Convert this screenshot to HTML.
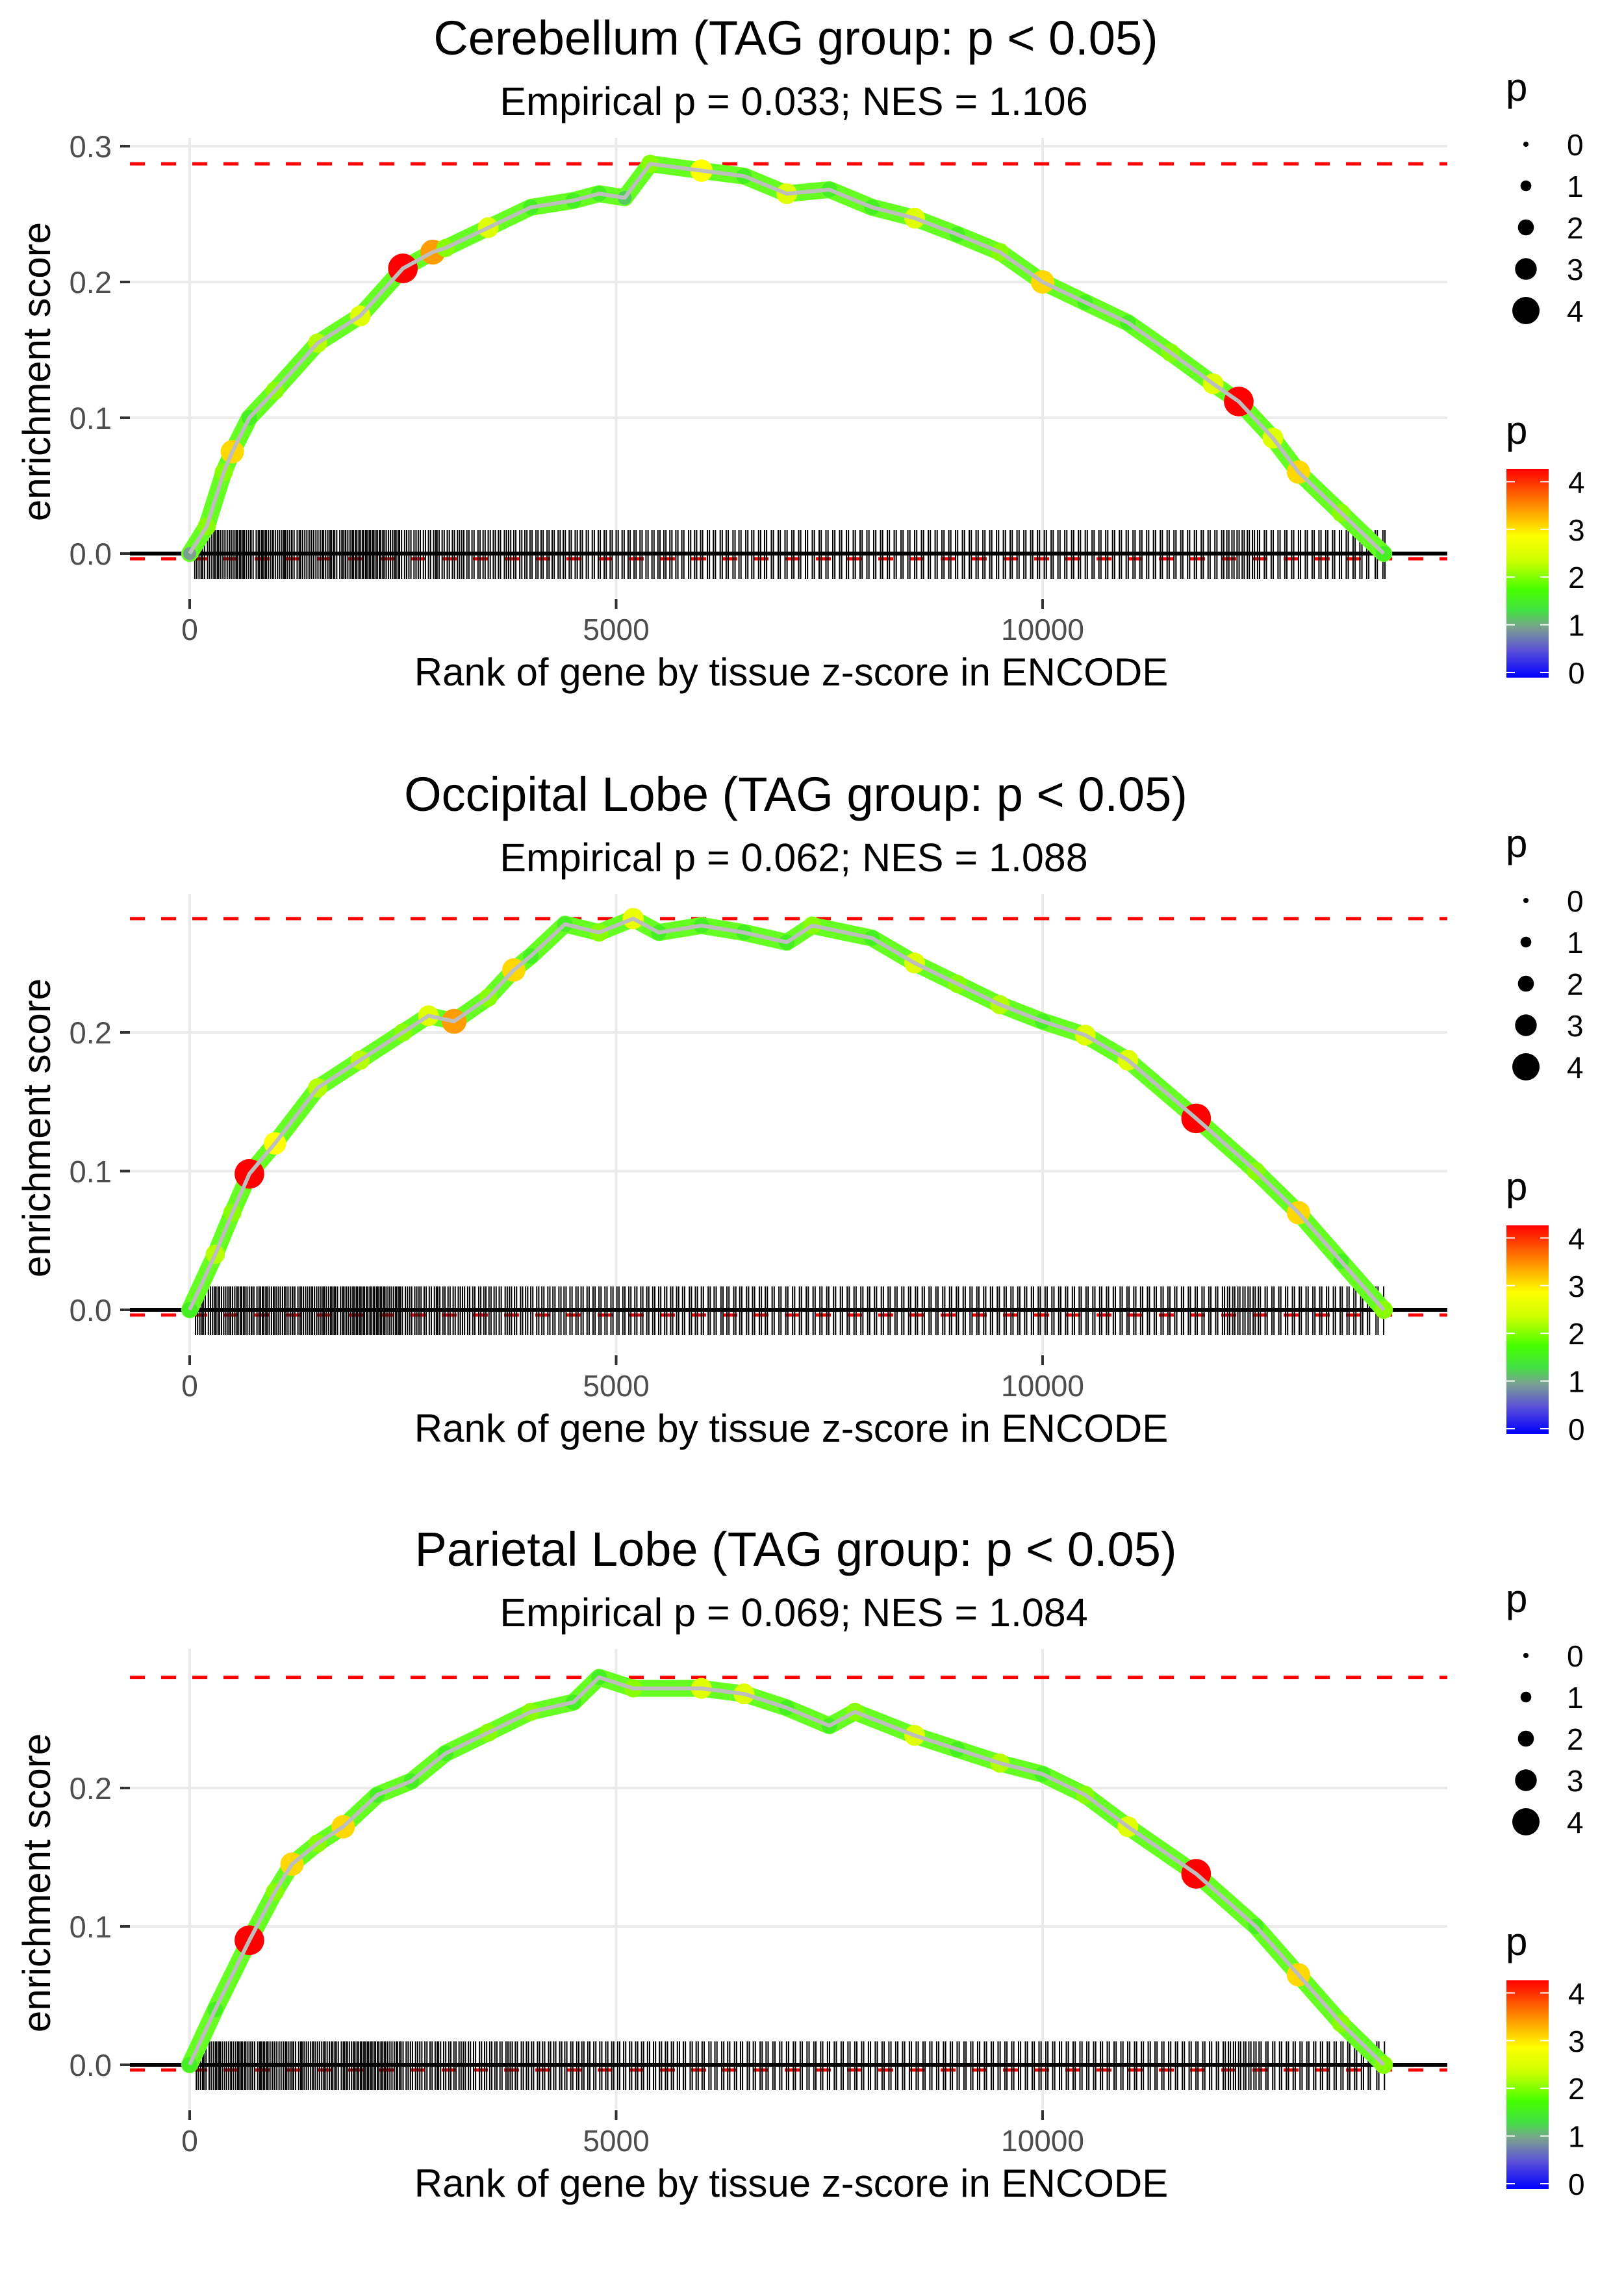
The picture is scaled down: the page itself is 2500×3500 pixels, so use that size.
<!DOCTYPE html>
<html><head><meta charset="utf-8"><style>
html,body{margin:0;padding:0;background:#fff}
svg{display:block}
text{font-family:"Liberation Sans",sans-serif}
</style></head><body>
<svg id="chart" width="2500" height="3500" viewBox="0 0 2500 3500" xmlns="http://www.w3.org/2000/svg">
<defs>
<linearGradient id="pgrad" x1="0" y1="1" x2="0" y2="0">
<stop offset="0" stop-color="#0000ff"/><stop offset="0.13" stop-color="#5a50d8"/><stop offset="0.24" stop-color="#7aa090"/>
<stop offset="0.32" stop-color="#44e044"/><stop offset="0.42" stop-color="#44ff00"/><stop offset="0.56" stop-color="#ccff00"/>
<stop offset="0.68" stop-color="#ffff00"/><stop offset="0.78" stop-color="#ffb000"/><stop offset="0.9" stop-color="#ff5000"/><stop offset="1" stop-color="#ff0000"/>
</linearGradient>
</defs>
</svg>
<script>
const titles = ["Cerebellum (TAG group: p < 0.05)","Occipital Lobe (TAG group: p < 0.05)","Parietal Lobe (TAG group: p < 0.05)"];
const subtitles = ["Empirical p = 0.033; NES = 1.106","Empirical p = 0.062; NES = 1.088","Empirical p = 0.069; NES = 1.084"];
const maxES = [0.287, 0.282, 0.280];
const yTicks1 = [0, 0.1, 0.2, 0.3];
const yTicks23 = [0, 0.1, 0.2];
const xTicks = [0, 5000, 10000];
const ranks1 = [0,200,400,500,700,1000,1500,2000,2500,2850,3000,3500,4000,4500,4800,5100,5400,6000,6500,7000,7500,8000,8500,9000,9500,10000,10500,11000,11500,12000,12300,12700,13000,13500,14000];
const es1 = [0,0.02,0.06,0.075,0.1,0.12,0.155,0.175,0.21,0.222,0.225,0.24,0.255,0.26,0.265,0.262,0.287,0.282,0.278,0.265,0.268,0.255,0.247,0.235,0.222,0.2,0.185,0.17,0.148,0.125,0.112,0.085,0.06,0.03,0];
const p1 = [1,2,2,3,1.5,2,2.2,2.5,4.2,3.3,2,2.5,1.5,1.5,1.5,1.2,2,2.8,1.5,2.5,1.5,1.5,2.5,1.5,2,3,1.5,1.5,2,2.5,4.2,2.5,3,2,1.5];
const ranks2 = [0,300,500,700,1000,1500,2000,2500,2800,3100,3500,3800,4000,4400,4800,5200,5500,6000,6500,7000,7300,8000,8500,9000,9500,10000,10500,11000,11800,12500,13000,13500,14000];
const es2 = [0,0.04,0.07,0.098,0.12,0.16,0.18,0.2,0.212,0.208,0.225,0.245,0.255,0.278,0.272,0.282,0.272,0.277,0.272,0.265,0.277,0.268,0.25,0.235,0.22,0.208,0.198,0.18,0.138,0.1,0.07,0.035,0];
const p2 = [1.5,2.2,2,4.2,2.8,2.2,2.2,2,2.5,3.3,2,3,1.5,1.5,2,2.6,1.5,1.5,1.5,1.5,2,1.5,2.5,2,2.2,1.5,2.5,2.5,4.2,2,3,1.5,2];
const ranks3 = [0,300,700,1000,1200,1500,1800,2200,2600,3000,3500,4000,4500,4800,5200,6000,6500,7000,7500,7800,8500,9000,9500,10000,10500,11000,11800,12500,13000,13500,14000];
const es3 = [0,0.04,0.09,0.125,0.145,0.16,0.172,0.195,0.205,0.225,0.24,0.255,0.262,0.28,0.272,0.272,0.268,0.258,0.245,0.255,0.238,0.228,0.218,0.21,0.195,0.172,0.138,0.1,0.065,0.03,0];
const p3 = [1.5,1.5,4.2,2,3,2,3,1.5,1.5,1.5,2,2,1.5,1.5,2,2.5,2.5,1.5,1.5,2,2.5,1.5,2.2,1.5,2,2.5,4.2,1.5,3,2,2];
const rugRanks = [60,110,150,210,260,300,340,390,440,470,520,560,600,640,690,720,780,820,860,900,950,980,1030,1080,1120,1170,1200,1260,1300,1350,1400,1430,1480,1530,1570,1620,1660,1700,1760,1800,1830,1880,1920,1960,2000,2040,2080,2120,2160,2200,2240,2280,2330,2380,2420,2460,2520,2570,2630,2680,2740,2800,2860,2900,2960,3020,3080,3140,3190,3250,3310,3380,3440,3500,3560,3620,3690,3740,3800,3870,3930,3990,4060,4120,4190,4250,4320,4380,4450,4520,4580,4650,4720,4790,4860,4930,5000,5070,5140,5210,5280,5350,5420,5490,5560,5630,5700,5770,5850,5920,5990,6070,6140,6220,6290,6370,6440,6520,6590,6670,6740,6820,6900,6980,7060,7140,7220,7300,7380,7460,7540,7620,7700,7780,7860,7940,8020,8100,8180,8260,8340,8420,8500,8580,8660,8740,8820,8900,8980,9060,9140,9220,9300,9380,9460,9540,9620,9700,9780,9860,9940,10020,10100,10180,10260,10340,10420,10500,10580,10660,10740,10820,10900,10980,11060,11140,11220,11300,11380,11460,11540,11620,11700,11780,11860,11940,12020,12100,12160,12220,12280,12340,12400,12460,12520,12600,12680,12760,12840,12920,13000,13080,13160,13240,13320,13400,13480,13560,13640,13720,13800,13900,13990];
const pTicks = [0,1,2,3,4];

const svg = document.getElementById('chart');
const NS = 'http://www.w3.org/2000/svg';
function mk(tag, attrs, parent){ const e=document.createElementNS(NS,tag); for(const k in attrs) e.setAttribute(k,attrs[k]); (parent||svg).appendChild(e); return e; }
function pColor(p){
  const st=[[0,[0,0,255]],[0.5,[90,80,216]],[1,[122,160,144]],[1.3,[68,224,68]],[1.7,[68,255,0]],[2.3,[204,255,0]],[2.8,[255,255,0]],[3.2,[255,176,0]],[3.7,[255,80,0]],[4.2,[255,0,0]]];
  for(let i=1;i<st.length;i++){ if(p<=st[i][0]){ const a=st[i-1],b=st[i],t=(p-a[0])/(b[0]-a[0]); return 'rgb('+a[1].map((v,j)=>Math.round(v+(b[1][j]-v)*t)).join(',')+')'; } }
  return 'rgb(255,0,0)';
}
const panels = [
  {off:0, ranks:ranks1, es:es1, p:p1, yt:yTicks1, y0:852, k:2090},
  {off:1164, ranks:ranks2, es:es2, p:p2, yt:yTicks23, y0:2016, k:2135},
  {off:2326, ranks:ranks3, es:es3, p:p3, yt:yTicks23, y0:3178, k:2130}
];
const xs = r => 292 + r*0.1313;
const PL=200, PR=2228;
panels.forEach((P,i)=>{
  const g = mk('g',{});
  
  
  const ys = v => P.y0 - v*P.k;
  const o = P.off;
  P.yt.forEach(v=>{ const l=mk('line',{x1:PL,x2:PR,y1:ys(v),y2:ys(v),stroke:'#ebebeb','stroke-width':4},g);   });
  xTicks.forEach(v=>{ const l=mk('line',{x1:xs(v),x2:xs(v),y1:o+212,y2:o+920,stroke:'#ebebeb','stroke-width':4},g);   });
  const t=mk('text',{x:1225,y:o+84,'font-size':74,'text-anchor':'middle',fill:'#000'},g); t.textContent=titles[i];
   
  const st=mk('text',{x:1222,y:o+177,'font-size':61,'text-anchor':'middle',fill:'#000'},g); st.textContent=subtitles[i];
   
  P.yt.forEach(v=>{
    mk('line',{x1:185,x2:200,y1:ys(v),y2:ys(v),stroke:'#333','stroke-width':4},g);
    const tl=mk('text',{x:172,y:ys(v)+17,'font-size':47,'text-anchor':'end',fill:'#4d4d4d'},g); tl.textContent=v.toFixed(1);
     
  });
  xTicks.forEach(v=>{
    mk('line',{x1:xs(v),x2:xs(v),y1:o+922,y2:o+937,stroke:'#333','stroke-width':4},g);
    const tl=mk('text',{x:xs(v),y:o+985,'font-size':46,'text-anchor':'middle',fill:'#4d4d4d'},g); tl.textContent=v;
     
  });
  const yl=mk('text',{x:0,y:0,'font-size':60,'text-anchor':'middle',fill:'#000',transform:'translate(77,'+(o+572)+') rotate(-90)'},g); yl.textContent='enrichment score';
   
  const xl=mk('text',{x:1218,y:o+1055,'font-size':60,'text-anchor':'middle',fill:'#000'},g); xl.textContent='Rank of gene by tissue z-score in ENCODE';
   
  const d1=mk('line',{x1:PL,x2:PR,y1:ys(maxES[i]),y2:ys(maxES[i]),stroke:'#ff0000','stroke-width':5,'stroke-dasharray':'23,25'},g);
   
  const d2=mk('line',{x1:PL,x2:PR,y1:P.y0+8,y2:P.y0+8,stroke:'#ff0000','stroke-width':5,'stroke-dasharray':'23,25'},g);
   
  const rug=mk('g',{stroke:'#000','stroke-width':2},g);
   
  rugRanks.forEach(r=>{ [0,24].forEach(dd=>{ const rr=r+dd+(i*9); if(rr>40&&rr<14020) mk('line',{x1:xs(rr),x2:xs(rr),y1:P.y0-36,y2:P.y0+39},rug); }); });
  mk('line',{x1:PL,x2:PR,y1:P.y0,y2:P.y0,stroke:'#000','stroke-width':6},g);
  const pts=P.ranks.map((r,j)=>xs(r)+','+ys(P.es[j])).join(' ');
  const under=mk('polyline',{points:pts,fill:'none',stroke:'#66ff22','stroke-width':26,'stroke-linejoin':'round','stroke-linecap':'round'},g);
   
  P.ranks.forEach((r,j)=>{
    const c=mk('circle',{cx:xs(r),cy:ys(P.es[j]),r:6+P.p[j]*4,fill:pColor(P.p[j])},g);
     
  });
  const line=mk('polyline',{points:pts,fill:'none',stroke:'#bebebe','stroke-width':6,'stroke-linejoin':'round'},g);
   
  const sl=mk('g',{},g);  
  const sp=mk('text',{x:2318,y:o+155,'font-size':60},sl); sp.textContent='p';
  const rads=[4,8.3,12.3,16.7,21];
  pTicks.forEach((v,j)=>{
    mk('circle',{cx:2349,cy:o+222+j*64,r:rads[j],fill:'#000'},sl);
    const lt=mk('text',{x:2412,y:o+239+j*64,'font-size':46},sl); lt.textContent=v;
  });
  const cl=mk('g',{},g);  
  const cp=mk('text',{x:2318,y:o+683,'font-size':60},cl); cp.textContent='p';
  mk('rect',{x:2319,y:o+722,width:65,height:321,fill:'url(#pgrad)'},cl);
  pTicks.forEach(v=>{
    const y=o+1035-v*73.4;
    mk('line',{x1:2319,x2:2332,y1:y,y2:y,stroke:'#fff','stroke-width':2},cl);
    mk('line',{x1:2371,x2:2384,y1:y,y2:y,stroke:'#fff','stroke-width':2},cl);
    const lt=mk('text',{x:2414,y:y+17,'font-size':46},cl); lt.textContent=v;
  });
});
</script>
</body></html>
